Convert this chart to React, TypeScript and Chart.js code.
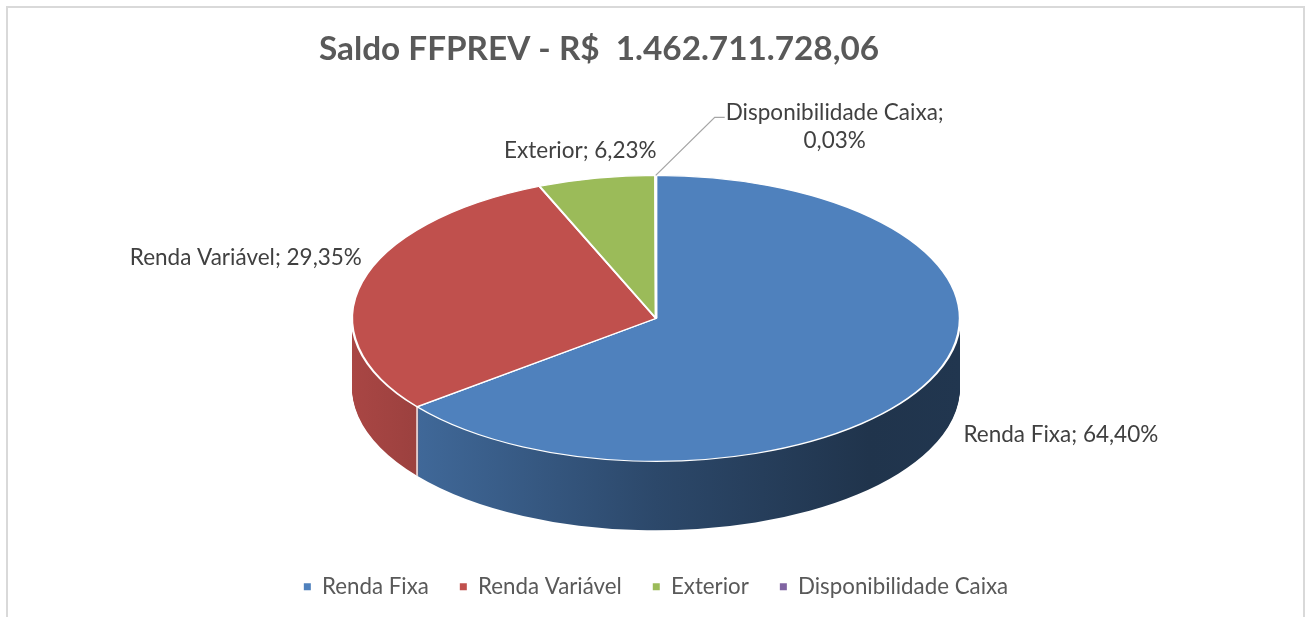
import React, { useEffect, useRef } from 'react';
import { Chart, registerables } from 'chart.js';

Chart.register(...registerables);

// ---------- data ----------
const TITLE = 'Saldo FFPREV - R$  1.462.711.728,06';
const categories = ['Renda Fixa', 'Renda Variável', 'Exterior', 'Disponibilidade Caixa'];
const shares = [64.4, 29.35, 6.23, 0.03];
const colors = ['#4F81BD', '#C0504D', '#9BBB59', '#8064A2'];

// ---------- layout / style ----------
const FONT = 'Lato, "Open Sans", sans-serif';
const W = 1306;
const H = 617;
const PIE_RX = 304;
const PIE_RY = 143;
const DEPTH = 69;
const LABEL_SIZE = 22.5;
const LABEL_LINE = 28;
const TITLE_SIZE = 33.3;
const TITLE_X = 599;
const TITLE_Y = 49;

type Placement = {
  dx: number;
  dy: number;
  align: CanvasTextAlign;
  wrap?: boolean;
  leader?: [number, number][];
};
const labelPlacement: Placement[] = [
  { dx: 34, dy: 54, align: 'left' },
  { dx: 0, dy: -24, align: 'right' },
  { dx: -16, dy: -27, align: 'center' },
  { dx: 179, dy: -63, align: 'center', wrap: true, leader: [[59, -58], [69, -58]] },
];

const fmt = (v: number) => v.toFixed(2).replace('.', ',') + '%';

function shade(hex: string, f: number) {
  const n = parseInt(hex.slice(1), 16);
  const r = Math.round(((n >> 16) & 255) * f);
  const g = Math.round(((n >> 8) & 255) * f);
  const b = Math.round((n & 255) * f);
  return `rgb(${r},${g},${b})`;
}

const tiltPlugin = {
  id: 'tilt3d',
  beforeDatasetsDraw(chart: any) {
    const ctx: CanvasRenderingContext2D = chart.ctx;
    const arcs = chart.getDatasetMeta(0).data as any[];
    ctx.save();
    if (!arcs.length) return;
    const cx = arcs[0].x;
    const cy = arcs[0].y;
    const R = arcs[0].outerRadius;
    const sx = PIE_RX / R;
    const sy = PIE_RY / R;

    const clones = arcs.map((arc, i) => {
      const g = ctx.createLinearGradient(cx - R, 0, cx + R, 0);
      g.addColorStop(0, shade(colors[i], 0.88));
      g.addColorStop(0.12, shade(colors[i], 0.8));
      g.addColorStop(0.5, shade(colors[i], 0.56));
      g.addColorStop(0.85, shade(colors[i], 0.4));
      g.addColorStop(1, shade(colors[i], 0.42));
      const c = Object.assign(Object.create(Object.getPrototypeOf(arc)), arc);
      c.options = Object.assign({}, arc.options, { backgroundColor: g, borderWidth: 0 });
      return c;
    });
    for (let d = DEPTH; d >= 1; d--) {
      ctx.save();
      ctx.translate(cx, cy + d);
      ctx.scale(sx, sy);
      ctx.translate(-cx, -cy);
      clones.forEach((c) => c.draw(ctx));
      ctx.restore();
    }
    ctx.save();
    ctx.strokeStyle = 'rgba(255,255,255,0.9)';
    ctx.lineWidth = 1.5;
    arcs.forEach((arc) => {
      const a = arc.startAngle;
      if (Math.sin(a) > 0.05) {
        const px = cx + PIE_RX * Math.cos(a);
        const py = cy + PIE_RY * Math.sin(a);
        ctx.beginPath();
        ctx.moveTo(px, py);
        ctx.lineTo(px, py + DEPTH);
        ctx.stroke();
      }
    });
    ctx.restore();

    ctx.translate(cx, cy);
    ctx.scale(sx, sy);
    ctx.translate(-cx, -cy);
  },
  afterDatasetsDraw(chart: any) {
    const ctx: CanvasRenderingContext2D = chart.ctx;
    ctx.restore();
    const arcs = chart.getDatasetMeta(0).data as any[];
    if (!arcs.length) return;
    const cx = arcs[0].x;
    const cy = arcs[0].y;
    ctx.save();
    ctx.font = `${LABEL_SIZE}px ${FONT}`;
    ctx.fillStyle = '#404040';
    ctx.textBaseline = 'middle';
    arcs.forEach((arc, i) => {
      const mid = (arc.startAngle + arc.endAngle) / 2;
      const px = cx + PIE_RX * Math.cos(mid);
      const py = cy + PIE_RY * Math.sin(mid);
      const pl = labelPlacement[i];
      if (pl.leader) {
        ctx.save();
        ctx.strokeStyle = '#a6a6a6';
        ctx.lineWidth = 1.3;
        ctx.beginPath();
        ctx.moveTo(px, py);
        pl.leader.forEach(([lx, ly]) => ctx.lineTo(px + lx, py + ly));
        ctx.stroke();
        ctx.restore();
      }
      const lines = pl.wrap
        ? [`${categories[i]};`, fmt(shares[i])]
        : [`${categories[i]}; ${fmt(shares[i])}`];
      ctx.textAlign = pl.align;
      lines.forEach((t, k) => ctx.fillText(t, px + pl.dx, py + pl.dy + k * LABEL_LINE));
    });
    ctx.restore();
  },
};

const titlePlugin = {
  id: 'offsetTitle',
  afterDraw(chart: any) {
    const ctx: CanvasRenderingContext2D = chart.ctx;
    ctx.save();
    ctx.font = `bold ${TITLE_SIZE}px ${FONT}`;
    ctx.fillStyle = '#595959';
    ctx.textAlign = 'center';
    ctx.textBaseline = 'middle';
    ctx.fillText(TITLE, TITLE_X, TITLE_Y);
    ctx.restore();
  },
};

export default function App() {
  const ref = useRef<HTMLCanvasElement | null>(null);
  useEffect(() => {
    if (!ref.current) return;
    const chart = new Chart(ref.current, {
      type: 'pie',
      data: {
        labels: categories,
        datasets: [
          {
            data: shares,
            backgroundColor: colors,
            borderColor: '#ffffff',
            borderWidth: 1.8,
          },
        ],
      },
      options: {
        responsive: false,
        animation: false,
        events: [],
        layout: { padding: { left: 6, right: 0, top: 92, bottom: 9 } },
        plugins: {
          title: { display: false },
          legend: {
            position: 'bottom',
            labels: {
              color: '#595959',
              font: { family: FONT, size: 22.3 },
              boxWidth: 7,
              boxHeight: 7,
              padding: 31,
              generateLabels: (ch: any) =>
                Chart.overrides.pie.plugins.legend.labels
                  .generateLabels(ch)
                  .map((l: any) => ({ ...l, lineWidth: 0, strokeStyle: l.fillStyle })),
            },
          },
          tooltip: { enabled: false },
        },
      },
      plugins: [tiltPlugin, titlePlugin],
    } as any);
    return () => chart.destroy();
  }, []);

  return (
    <div style={{ position: 'fixed', left: 0, top: 0, width: W, height: H, overflow: 'hidden', background: '#fff' }}>
      <div
        style={{
          position: 'absolute',
          left: 6,
          top: 6,
          width: 1299,
          height: 700,
          border: '2px solid #d9d9d9',
          boxSizing: 'border-box',
        }}
      />
      <canvas ref={ref} width={W} height={H} style={{ position: 'absolute', left: 0, top: 0, width: W, height: H }} />
    </div>
  );
}
